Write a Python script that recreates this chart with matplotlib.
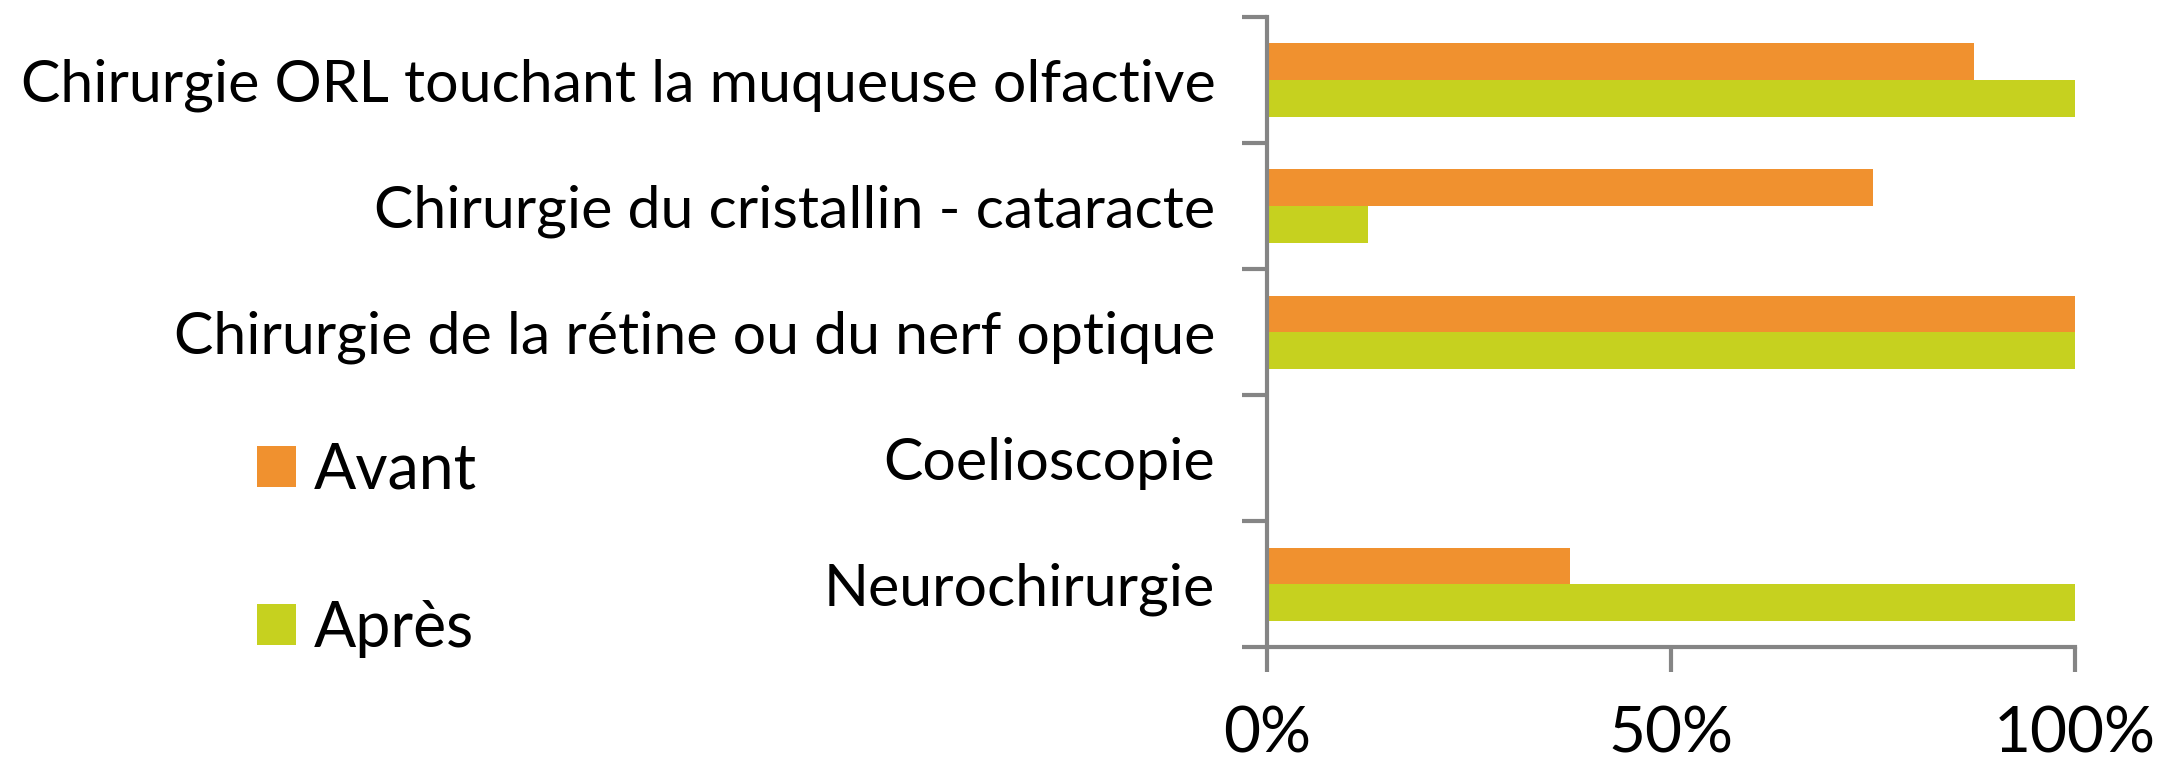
import numpy as np
import matplotlib
matplotlib.use("Agg")
import matplotlib.pyplot as plt
from matplotlib.ticker import PercentFormatter

plt.rcParams['font.family'] = ['Lato', 'DejaVu Sans']

categories = [
    "Chirurgie ORL touchant la muqueuse olfactive",
    "Chirurgie du cristallin - cataracte",
    "Chirurgie de la rétine ou du nerf optique",
    "Coelioscopie",
    "Neurochirurgie",
]
avant = [87.5, 75, 100, 0, 37.5]
apres = [100, 12.5, 100, 0, 100]
series_labels = ["Avant", "Après"]
x_ticks = [0, 50, 100]

orange = '#F0912F'
green = '#C6D11F'
gray = '#858585'

fig = plt.figure(figsize=(21.58, 7.74), dpi=100)
ax = fig.add_axes([0.587, 0.164, 0.3745, 0.814])

n = len(categories)
pos = np.arange(n)[::-1]  # first category on top
h = 0.29
ax.barh(pos + h / 2, avant, height=h, color=orange, label=series_labels[0])
ax.barh(pos - h / 2, apres, height=h, color=green, label=series_labels[1])

ax.set_xlim(0, 100)
ax.set_ylim(-0.5, n - 0.5)
ax.set_xticks(x_ticks)
ax.xaxis.set_major_formatter(PercentFormatter(decimals=0))

# boundary ticks on y, labels centred on categories
ax.set_yticks(np.arange(n + 1) - 0.5)
ax.set_yticklabels([])
ax.set_yticks(pos, minor=True)
ax.set_yticklabels(categories, minor=True)
ax.tick_params(axis='y', which='minor', length=0, pad=37, labelsize=42.5)
ax.tick_params(axis='y', which='major', length=18, width=3, color=gray, direction='out')
ax.tick_params(axis='x', length=18, width=3, color=gray, direction='out', pad=24, labelsize=46)

for s in ['top', 'right']:
    ax.spines[s].set_visible(False)
for s in ['left', 'bottom']:
    ax.spines[s].set_color(gray)
    ax.spines[s].set_linewidth(3)

fig.legend(loc='center left', bbox_to_anchor=(0.119, 0.29), frameon=False,
           fontsize=45, handlelength=0.62, handleheight=0.62, handletextpad=0.3,
           labelspacing=1.6, borderpad=0, borderaxespad=0)

fig.savefig('out.png', dpi=100)
